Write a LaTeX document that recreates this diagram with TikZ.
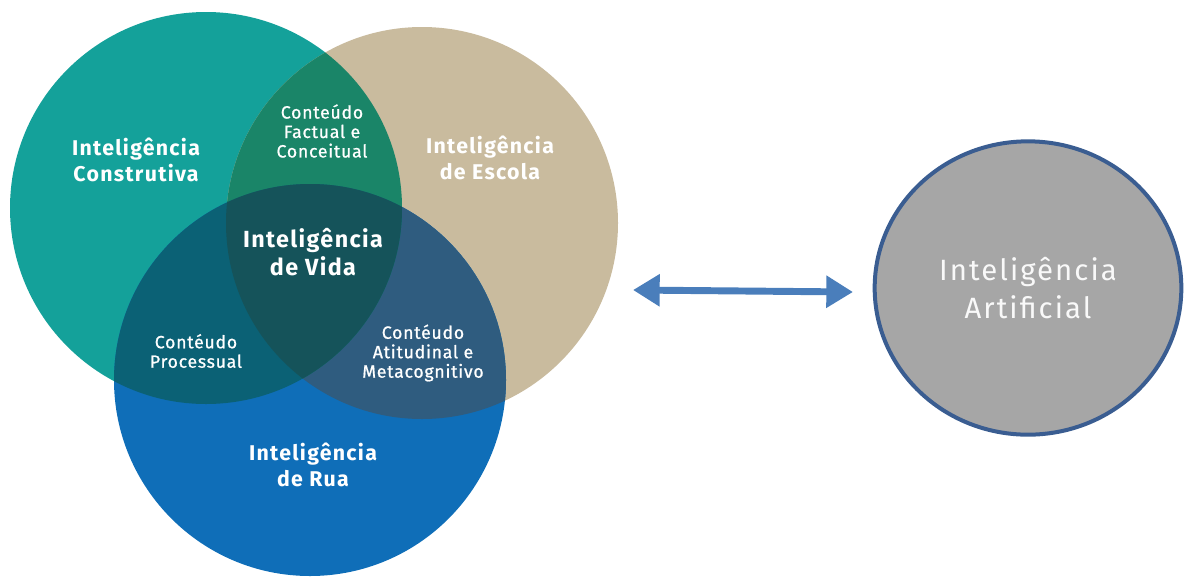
\documentclass[tikz,border=0pt]{standalone}
\usepackage{fontspec}
\setmainfont{Fira Sans}
\newfontfamily\aifont[LetterSpace=7]{Fira Sans}
\newfontfamily\bigfont[LetterSpace=6]{Fira Sans}
\newfontfamily\smallfont[LetterSpace=4,FakeBold=0.8]{Fira Sans}
\usetikzlibrary{arrows.meta,shapes.geometric}
\definecolor{cteal}{RGB}{20,161,154}
\definecolor{cbeige}{RGB}{201,187,158}
\definecolor{cblue}{RGB}{15,110,184}
\definecolor{ctb}{RGB}{26,133,104}
\definecolor{ctr}{RGB}{11,97,117}
\definecolor{cbr}{RGB}{47,92,127}
\definecolor{call}{RGB}{21,83,90}
\definecolor{aigray}{RGB}{166,166,166}
\definecolor{aiedge}{RGB}{58,93,145}
\definecolor{arrblue}{RGB}{74,126,187}

\begin{document}
\begin{tikzpicture}[x=0.75pt,y=-0.75pt,
  big/.style={text=white,font=\bigfont\bfseries\fontsize{16}{19.5}\selectfont,align=center},
  small/.style={text=white,font=\smallfont\fontsize{13.3}{14.6}\selectfont,align=center},
  ainode/.style={ellipse,draw=aiedge,line width=3pt,fill=aigray,
    minimum width=230pt,minimum height=220pt,text=white!95!gray,
    font=\aifont\fontsize{22}{29}\selectfont,align=center}]
\useasboundingbox (0,0) rectangle (1184,576);
\def\rr{147pt}
\coordinate (cC) at (206,208);
\coordinate (cE) at (422,223);
\coordinate (cR) at (310,380);

\fill[cteal] (cC) circle (\rr);
\fill[cbeige] (cE) circle (\rr);
\fill[cblue] (cR) circle (\rr);
\begin{scope}
  \clip (cE) circle (\rr);
  \fill[cbr] (cR) circle (\rr);
\end{scope}
\begin{scope}
  \clip (cC) circle (\rr);
  \fill[ctb] (cE) circle (\rr);
  \fill[ctr] (cR) circle (\rr);
  \clip (cE) circle (\rr);
  \fill[call] (cR) circle (\rr);
\end{scope}

\node[big] (constr) at (136,160) {Inteligência\\Construtiva};
\node[big] (escola) at (490,158) {Inteligência\\de Escola};
\node[big,font=\bigfont\bfseries\fontsize{17.5}{20.5}\selectfont] (vida) at (313,252) {Inteligência\\de Vida};
\node[big] (rua) at (313,465) {Inteligência\\de Rua};
\node[small] (factual) at (322,131) {Conteúdo\\Factual e\\Conceitual};
\node[small] (proc) at (196,351) {Contéudo\\Processual};
\node[small] (atit) at (423,353) {Contéudo\\Atitudinal e\\Metacognitivo};

\node[ainode] (ai) at (1028,288) {Inteligência\\Artificial};
\coordinate (arrL) at (633,290);
\coordinate (arrR) at (853,292);
\draw[arrblue,line width=5.2pt,{Triangle[width=23pt,length=20pt]}-{Triangle[width=23pt,length=20pt]}] (arrL) -- (arrR);
\end{tikzpicture}
\end{document}
